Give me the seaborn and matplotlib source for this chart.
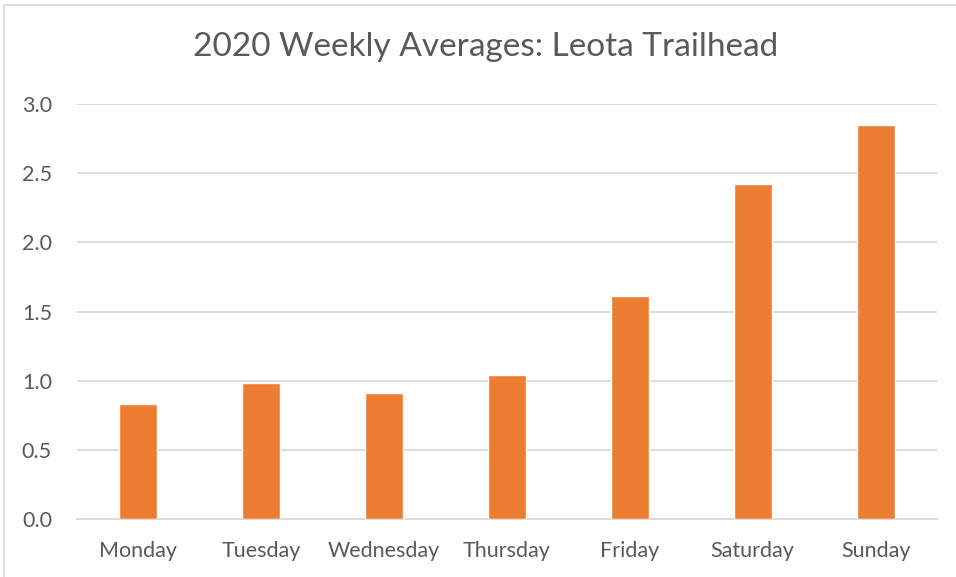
import matplotlib
matplotlib.use("Agg")
import matplotlib.pyplot as plt
import pandas as pd
import seaborn as sns
from matplotlib.patches import Rectangle

days = ["Monday", "Tuesday", "Wednesday", "Thursday", "Friday", "Saturday", "Sunday"]
averages = [0.83, 0.98, 0.91, 1.04, 1.61, 2.42, 2.85]
y_ticks = [0.0, 0.5, 1.0, 1.5, 2.0, 2.5, 3.0]

df = pd.DataFrame({"day": days, "avg": averages})

sns.set_style("white")
plt.rcParams["font.family"] = ["Lato", "DejaVu Sans"]

fig = plt.figure(figsize=(9.56, 5.77), dpi=100)
ax = fig.add_axes([77 / 956, 1 - 519 / 577, 860 / 956, 415 / 577])

sns.barplot(data=df, x="day", y="avg", color="#ED7D31", saturation=1,
            width=0.31, ax=ax, zorder=3)

ax.set_ylim(0, 3.0)
ax.set_yticks(y_ticks)
ax.set_yticklabels([f"{t:.1f}" for t in y_ticks])
ax.grid(axis="y", color="#D9D9D9", linewidth=1.3, zorder=0)
ax.set_axisbelow(True)
for s in ["top", "right", "left"]:
    ax.spines[s].set_visible(False)
ax.spines["bottom"].set_color("#D9D9D9")
ax.spines["bottom"].set_linewidth(1.3)
ax.tick_params(axis="both", length=0, labelsize=15.5, colors="#595959")
ax.tick_params(axis="x", pad=16)
ax.tick_params(axis="y", pad=18)
ax.set_xlabel("")
ax.set_ylabel("")

fig.text(486 / 956, 1 - 47 / 577, "2020 Weekly Averages: Leota Trailhead",
         ha="center", va="center", fontsize=24, color="#595959")

fig.patches.append(Rectangle((4 / 956, -0.01), 1.0, 1 - 5 / 577 + 0.01,
                             transform=fig.transFigure, fill=False,
                             edgecolor="#D9D9D9", linewidth=1.2))

fig.savefig("out.png", dpi=100)
